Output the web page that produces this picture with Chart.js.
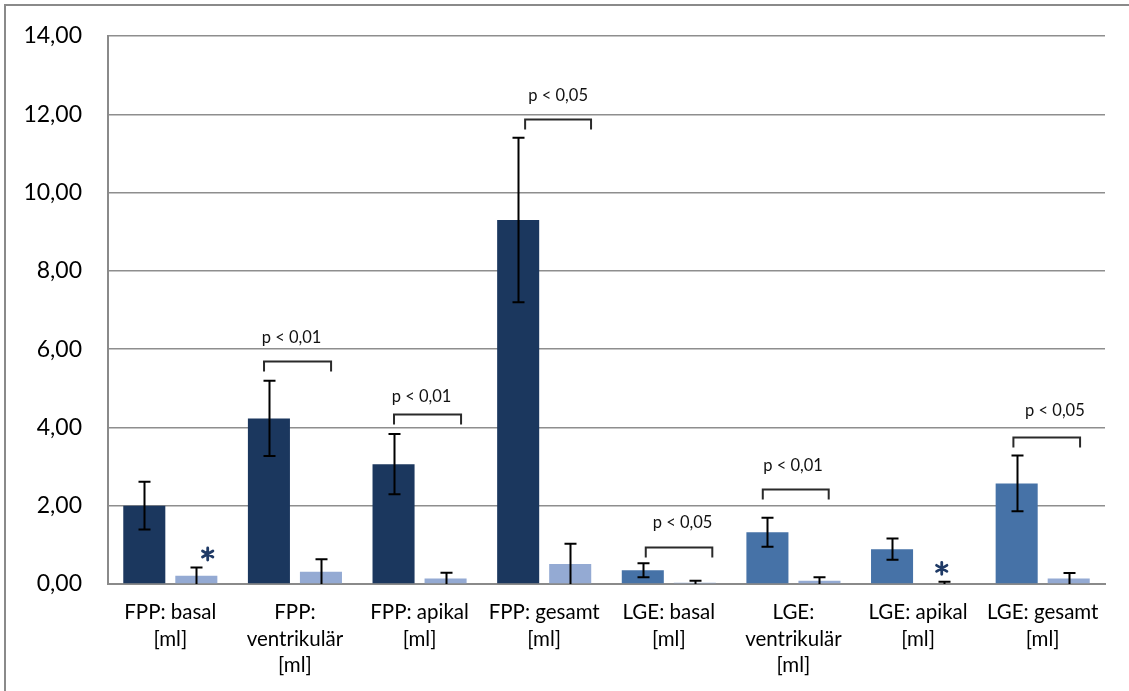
<!DOCTYPE html>
<html>
<head>
<meta charset="utf-8">
<title>FPP / LGE Volumina</title>
<script src="https://cdn.jsdelivr.net/npm/chart.js@4.4.1/dist/chart.umd.min.js"></script>
<style>
  html, body { margin: 0; padding: 0; background: #fff; overflow: hidden; }
  #wrap { position: relative; width: 1129px; height: 691px; overflow: hidden; }
  #frame { position: absolute; left: 4px; top: 4px; width: 1160px; height: 720px; border: 2px solid #8a8a8a; }
  #c { position: absolute; left: 0; top: 0; }
</style>
</head>
<body>
<div id="wrap">
  <div id="frame"></div>
  <canvas id="c" width="1129" height="691"></canvas>
</div>
<script>
// Categories (multi-line axis labels)
const categories = [
  ['FPP: basal', '[ml]'],
  ['FPP:', 'ventrikulär', '[ml]'],
  ['FPP: apikal', '[ml]'],
  ['FPP: gesamt', '[ml]'],
  ['LGE: basal', '[ml]'],
  ['LGE:', 'ventrikulär', '[ml]'],
  ['LGE: apikal', '[ml]'],
  ['LGE: gesamt', '[ml]']
];

// First group (means and standard deviations)
const groupA = [2.00, 4.23, 3.06, 9.30, 0.35, 1.32, 0.89, 2.57];
const errorA = [0.61, 0.96, 0.77, 2.10, 0.18, 0.37, 0.27, 0.71];

// Second group (means and standard deviations)
const groupB = [0.21, 0.31, 0.14, 0.51, 0.03, 0.08, 0.02, 0.14];
const errorB = [0.21, 0.32, 0.15, 0.52, 0.05, 0.09, 0.04, 0.14];

// Y axis ticks
const yTicks = [0, 2, 4, 6, 8, 10, 12, 14];

// Significance brackets: category, left/right offset (in category widths), height, label
const comparisons = [
  { cat: 1, from: -0.248, to: 0.290, y: 5.70,  label: 'p < 0,01', lx: -0.027, ly: 6.285 },
  { cat: 2, from: -0.205, to: 0.333, y: 4.35,  label: 'p < 0,01', lx: 0.016,  ly: 4.778 },
  { cat: 3, from: -0.153, to: 0.376, y: 11.87, label: 'p < 0,05', lx: 0.112,  ly: 12.468 },
  { cat: 4, from: -0.185, to: 0.349, y: 0.938, label: 'p < 0,05', lx: 0.110,  ly: 1.558 },
  { cat: 5, from: -0.246, to: 0.283, y: 2.427, label: 'p < 0,01', lx: -0.003, ly: 3.015 },
  { cat: 7, from: -0.235, to: 0.300, y: 3.763, label: 'p < 0,05', lx: 0.098,  ly: 4.42 }
];

// Asterisk markers
const asterisks = [
  { cat: 0, dx: 0.30, y: 0.766 },
  { cat: 6, dx: 0.19, y: 0.40 }
];

const DARK = '#1b375e';
const MID = '#4672a7';
const LIGHT = '#94aad3';
const colorsA = categories.map((c, i) => (i < 4 ? DARK : MID));

const decimalComma = v => v.toFixed(2).replace('.', ',');

// Error bars on top of each bar
const errorBarPlugin = {
  id: 'errorBars',
  afterDatasetsDraw(chart) {
    const ctx = chart.ctx;
    const y = chart.scales.y;
    const errs = [errorA, errorB];
    ctx.save();
    ctx.strokeStyle = '#000';
    ctx.lineWidth = 2;
    chart.data.datasets.forEach((ds, di) => {
      const meta = chart.getDatasetMeta(di);
      meta.data.forEach((bar, i) => {
        const v = ds.data[i];
        const e = errs[di][i];
        const hi = v + e;
        const lo = Math.max(0, v - e);
        const yHi = y.getPixelForValue(hi);
        const yLo = y.getPixelForValue(lo);
        const x = Math.round(bar.x) + 0.5;
        const cap = 6;
        ctx.beginPath();
        ctx.moveTo(x, yHi);
        ctx.lineTo(x, yLo);
        ctx.moveTo(x - cap, yHi);
        ctx.lineTo(x + cap, yHi);
        if (v - e > 0.001) {
          ctx.moveTo(x - cap, yLo);
          ctx.lineTo(x + cap, yLo);
        }
        ctx.stroke();
      });
    });
    ctx.restore();
  }
};

// Significance brackets, p-value labels and asterisks
const annotationPlugin = {
  id: 'significance',
  afterDraw(chart) {
    const ctx = chart.ctx;
    const xs = chart.scales.x;
    const ys = chart.scales.y;
    const catW = xs.width / categories.length;
    const px = (cat, off) => xs.getPixelForValue(cat) + off * catW;
    ctx.save();
    ctx.strokeStyle = '#2a2a2a';
    ctx.lineWidth = 2;
    comparisons.forEach(c => {
      const x1 = px(c.cat, c.from);
      const x2 = px(c.cat, c.to);
      const yy = Math.round(ys.getPixelForValue(c.y)) + 0.5;
      ctx.beginPath();
      ctx.moveTo(x1, yy + 10);
      ctx.lineTo(x1, yy);
      ctx.lineTo(x2, yy);
      ctx.lineTo(x2, yy + 10);
      ctx.stroke();
      ctx.fillStyle = '#111';
      ctx.font = '16.5px Lato';
      ctx.textAlign = 'center';
      ctx.textBaseline = 'middle';
      ctx.fillText(c.label, px(c.cat, c.lx), ys.getPixelForValue(c.ly));
    });
    ctx.strokeStyle = '#1f3a66';
    ctx.lineWidth = 2.8;
    ctx.lineCap = 'round';
    asterisks.forEach(a => {
      const cx = px(a.cat, a.dx);
      const cy = ys.getPixelForValue(a.y);
      const r = 6;
      ctx.beginPath();
      for (let k = 0; k < 3; k++) {
        const ang = Math.PI / 2 + k * Math.PI / 3;
        ctx.moveTo(cx - r * Math.cos(ang), cy - r * Math.sin(ang));
        ctx.lineTo(cx + r * Math.cos(ang), cy + r * Math.sin(ang));
      }
      ctx.stroke();
    });
    ctx.restore();
  }
};

Chart.defaults.font.family = 'Lato, "Open Sans", sans-serif';
Chart.defaults.color = '#000';

new Chart(document.getElementById('c'), {
  type: 'bar',
  data: {
    labels: categories,
    datasets: [
      { data: groupA, backgroundColor: colorsA, borderWidth: 0 },
      { data: groupB, backgroundColor: LIGHT, borderWidth: 0 }
    ]
  },
  options: {
    responsive: false,
    animation: false,
    devicePixelRatio: 1,
    categoryPercentage: 0.835,
    barPercentage: 0.808,
    layout: { padding: { top: 36, right: 24, left: 0, bottom: 0 } },
    plugins: {
      legend: { display: false },
      title: { display: false },
      tooltip: { enabled: false }
    },
    scales: {
      x: {
        grid: { display: false },
        border: { display: true, color: '#8a8a8a', width: 2 },
        ticks: {
          font: { size: 20.5, lineHeight: 1.3 },
          padding: 7,
          maxRotation: 0,
          autoSkip: false
        },
        afterFit(scale) { scale.height = 107; }
      },
      y: {
        min: 0,
        max: 14,
        afterBuildTicks(scale) { scale.ticks = yTicks.map(v => ({ value: v })); },
        grid: { color: '#8e8e8e', lineWidth: 1.5, drawTicks: false },
        border: { display: true, color: '#8a8a8a', width: 2 },
        ticks: {
          font: { size: 23 },
          padding: 26,
          callback: v => decimalComma(v)
        },
        afterFit(scale) {
          scale.width = 108;
          scale.paddingTop = 0;
          scale.paddingBottom = 0;
        }
      }
    }
  },
  plugins: [errorBarPlugin, annotationPlugin]
});
</script>
</body>
</html>
